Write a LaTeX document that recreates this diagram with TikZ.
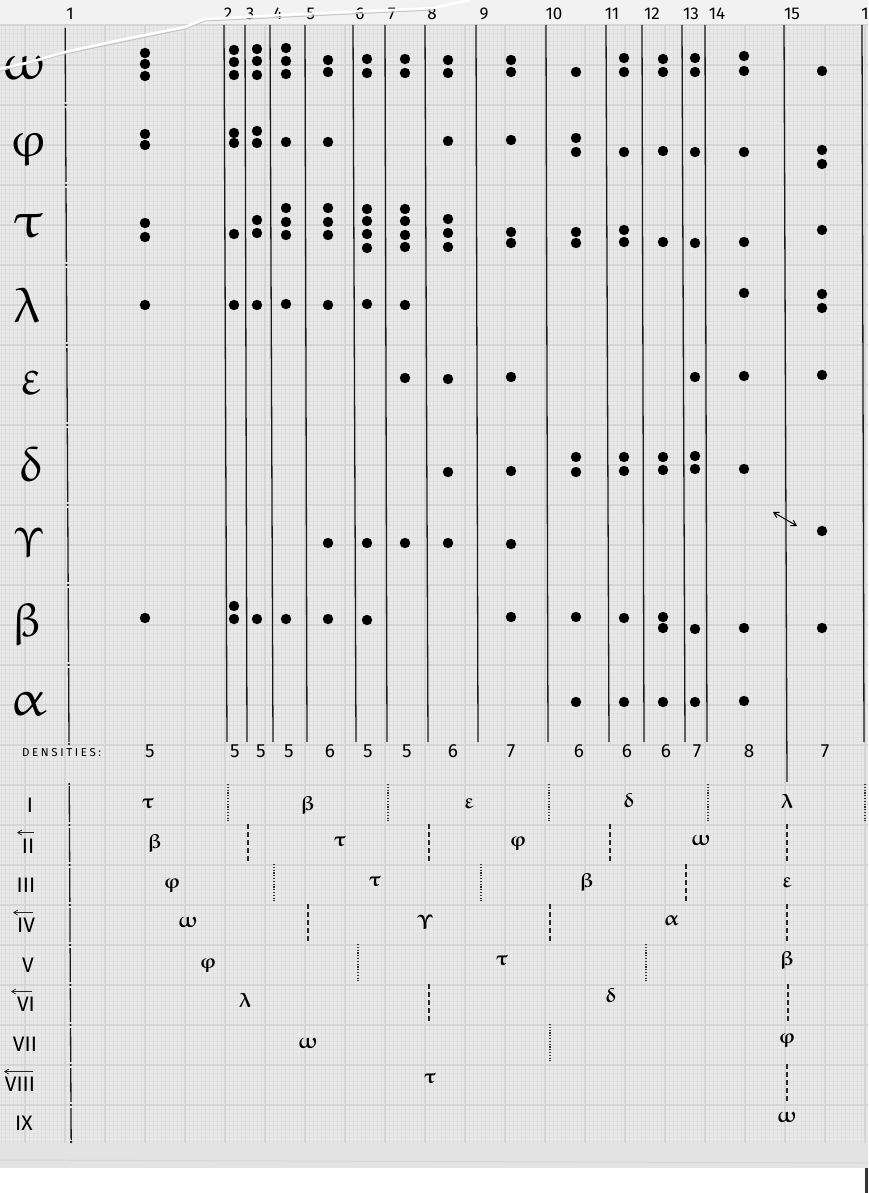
\documentclass[tikz,border=0pt]{standalone}
\usepackage{fontspec}
\setsansfont{Fira Sans}
\usepackage{graphicx}
\usepackage{upgreek}
\usetikzlibrary{arrows.meta,calc,positioning}

\tikzset{
  ink/.style={line width=1.3pt, black!90},
  dotsep/.style={line width=1.2pt, black!80, dash pattern=on 1.1pt off 1.7pt},
  dashsep/.style={line width=1.3pt, black!85, dash pattern=on 5pt off 3pt},
  rowgreek/.style={inner sep=0pt, font=\Huge},
  cellgreek/.style={inner sep=0pt, font=\huge\boldmath},
  colnum/.style={inner sep=0pt, font=\fontsize{17}{17}\selectfont\sffamily},
  density/.style={inner sep=0pt, font=\fontsize{19}{19}\selectfont\sffamily},
  roman/.style={inner sep=0pt, font=\fontsize{21}{21}\selectfont\sffamily},
  backarrow/.style={line width=0.8pt, black!85, -{Straight Barb[length=4pt,width=5pt]}},
}
\newcommand{\spaced}[1]{\fontsize{11.5}{11.5}\selectfont\sffamily\spacedloop#1\relax}
\def\spacedloop#1{\ifx#1\relax\else#1\kern2.6pt\expandafter\spacedloop\fi}

\begin{document}
\begin{tikzpicture}[x=1pt,y=-1pt]
  \useasboundingbox (0,0) rectangle (868,1193);

  % paper, tape and scanner bed
  \fill[gray!10] (0,0) rectangle (868,25);
  \fill[gray!17] (0,25) rectangle (868,1143);
  \fill[gray!22] (0,1143) rectangle (868,1168);
  \draw[gray!32, line width=1pt] (0,1160) -- (868,1163);
  \fill[white] (0,1168) rectangle (868,1193);
  \fill[black!80] (865,1168) rectangle (868,1193);

  % millimetre paper
  \foreach \x in {1,5,...,865} \draw[gray!24, line width=0.6pt] (\x,25) -- (\x,1143);
  \foreach \y in {29,33,...,1141} \draw[gray!24, line width=0.6pt] (0,\y) -- (868,\y);
  \foreach \x in {5,45,...,845} \draw[gray!28, line width=0.8pt] (\x,25) -- (\x,1143);
  \foreach \y in {45,85,...,1125} \draw[gray!28, line width=0.8pt] (0,\y) -- (868,\y);
  \foreach \x in {25,65,...,865} \draw[gray!33, line width=1.1pt] (\x,25) -- (\x,1143);
  \foreach \y in {25,65,...,1105} \draw[gray!33, line width=1.1pt] (0,\y) -- (868,\y);

  % left border, broken at every row
  \foreach \a/\b in {28/102,108/182,188/262,268/342,348/422,428/502,508/582,588/662,668/742,
                     786/822,828/862,868/902,908/942,948/982,988/1022,1028/1062,1068/1102,1108/1140}
    \draw[ink] ({65+0.0054*\a},\a) -- ({65+0.0054*\b},\b);
  \foreach \b in {105,185,265,345,425,505,585,665,744,784,825,865,905,945,985,1025,1065,1105,1142}
    \fill[black] ({65+0.0054*\b},\b) circle [radius=1.2pt];

  % column lines
  \foreach \xt/\xb in {224/227,245/247,270/273,305/307,353/356,385/387,425/428,476/478,
                       546/548,606/609,642/644,682/685,705/707,862/864}
    \draw[ink] (\xt,25) -- (\xb,742);
  \draw[ink] (784,25) -- (787,782);

  % column numbers
  \foreach \n/\x in {1/70,2/228,3/250,4/278,5/311,6/360,7/392,8/432,9/484,10/554,
                     11/612,12/652,13/691,14/717,15/792}
    \node[colnum] (num\n) at (\x,14) {\n};
  \node[colnum] (numlast) at (865,14) {1};

  % row letters
  \node[rowgreek] (gomega)   at (24,68)  {\scalebox{2.1}[2]{$\upomega$}};
  \node[rowgreek] (gphi)     at (28,145) {\scalebox{2}{$\upvarphi$}};
  \node[rowgreek] (gtau)     at (28,226) {\scalebox{2.3}[2]{$\uptau$}};
  \node[rowgreek] (glambda)  at (27,305) {\scalebox{2}{$\uplambda$}};
  \node[rowgreek] (gepsilon) at (31,383) {\scalebox{2}{$\upvarepsilon$}};
  \node[rowgreek] (gdelta)   at (31,464) {\scalebox{2}{$\updelta$}};
  \node[rowgreek] (ggamma)   at (29,543) {\scalebox{1.7}{$\Upupsilon$}};
  \node[rowgreek] (gbeta)    at (27,625) {\scalebox{1.9}{$\upbeta$}};
  \node[rowgreek] (galpha)   at (28,704) {\scalebox{2.2}[2]{$\upalpha$}};

  % dots, column by column
  \foreach \x/\ys in {
      145/{53,64,76,134,145,223,237,305,618},
      234/{50,62,75,133,143,234,305,606,619},
      257/{49,61,75,131,143,220,233,305,619},
      286/{48,61,74,142,208,222,235,304,619},
      328/{60,72,142,208,222,235,305,543,619},
      367/{59,73,209,221,234,248,304,543,620},
      405/{59,73,209,221,235,247,305,378,543},
      448/{60,73,141,219,233,247,379,472,543},
      511/{60,72,140,232,243,377,471,544,617},
      576/{72,138,152,232,243,457,472,617,702},
      624/{58,72,152,230,242,457,471,618,702},
      663/{59,72,151,242,457,470,617,628,702},
      695/{58,72,152,243,377,456,469,629,702},
      744/{56,71,152,242,293,376,469,628,701},
      822/{71,150,164,230,294,308,375,531,628}}
    \foreach \y in \ys \fill[black] (\x,\y) circle [radius=5.2pt];

  \coordinate (swapA) at (773,512);
  \coordinate (swapB) at (797,526);
  \draw[line width=1pt, {Straight Barb[length=5pt,width=6pt]}-{Straight Barb[length=5pt,width=6pt]}] (swapA) -- (swapB);

  % densities
  \node[inner sep=0pt, anchor=west] (denslabel) at (22,753) {\spaced{DENSITIES:}};
  \foreach \v/\x [count=\k] in {5/150,5/235,5/261,5/289,6/330,5/368,5/407,6/453,
                                7/511,6/579,6/627,6/666,7/697,8/749,7/825}
    \node[density] (dens\k) at (\x,751) {\v};

  % permutation rows
  \node[roman] (rI)    at (30,805)  {I};
  \node[roman] (rII)   at (28,846)  {II};
  \node[roman] (rIII)  at (26,885)  {III};
  \node[roman] (rIV)   at (26,925)  {IV};
  \node[roman] (rV)    at (28,965)  {V};
  \node[roman] (rVI)   at (26,1004) {VI};
  \node[roman] (rVII)  at (25,1044) {VII};
  \node[roman] (rVIII) at (20,1084) {VIII};
  \node[roman] (rIX)   at (24,1123) {IX};
  \draw[backarrow] ($(rII.north)+(6,-6)$)   -- ($(rII.north)+(-11,-6)$);
  \draw[backarrow] ($(rIV.north)+(7,-5)$)   -- ($(rIV.north)+(-13,-5)$);
  \draw[backarrow] ($(rVI.north)+(6,-5)$)   -- ($(rVI.north)+(-15,-5)$);
  \draw[backarrow] ($(rVIII.north)+(13,-5)$) -- ($(rVIII.north)+(-16,-5)$);

  \foreach \g/\x/\y [count=\k] in {
      \uptau/148/803, \upbeta/308/805, \upvarepsilon/469/803, \updelta/629/800, \uplambda/787/801,
      \upbeta/155/843, \uptau/340/841, \upvarphi/518/841, \upomega/701/840,
      \upvarphi/172/883, \uptau/375/881, \upbeta/587/882, \upvarepsilon/787/882,
      \upomega/188/922, \Upupsilon/425/922, \upalpha/671/920,
      \upvarphi/208/963, \uptau/502/960, \upbeta/787/960,
      \uplambda/245/1000, \updelta/611/995,
      \upomega/308/1043, \upvarphi/787/1038,
      \uptau/430/1078,
      \upomega/787/1117}
    \node[cellgreek] (cell\k) at (\x,\y) {$\g$};

  \foreach \x/\t in {228/783,388/783,549/783,708/783,865/783,274/863,481/863,
                     358/943,646/943,550/1023}
    \draw[dotsep] (\x,\t+1) -- (\x,\t+38);
  \foreach \x/\t in {248/823,429/823,610/823,787/823,686/863,308/903,550/903,
                     787/903,429/983,788/983,787/1063}
    \draw[dashsep] (\x,\t+1) -- (\x,\t+38);

  % torn edge at the top
  \draw[gray!45, line width=1pt] (0,71) -- (65,54) -- (185,29) -- (205,21) -- (433,10);
  \draw[white, line width=2.4pt, line join=round] (0,69) -- (30,62) -- (65,52) -- (120,40)
    -- (185,27) -- (205,19) -- (300,14) -- (433,8) -- (455,3) -- (470,0);
\end{tikzpicture}
\end{document}
